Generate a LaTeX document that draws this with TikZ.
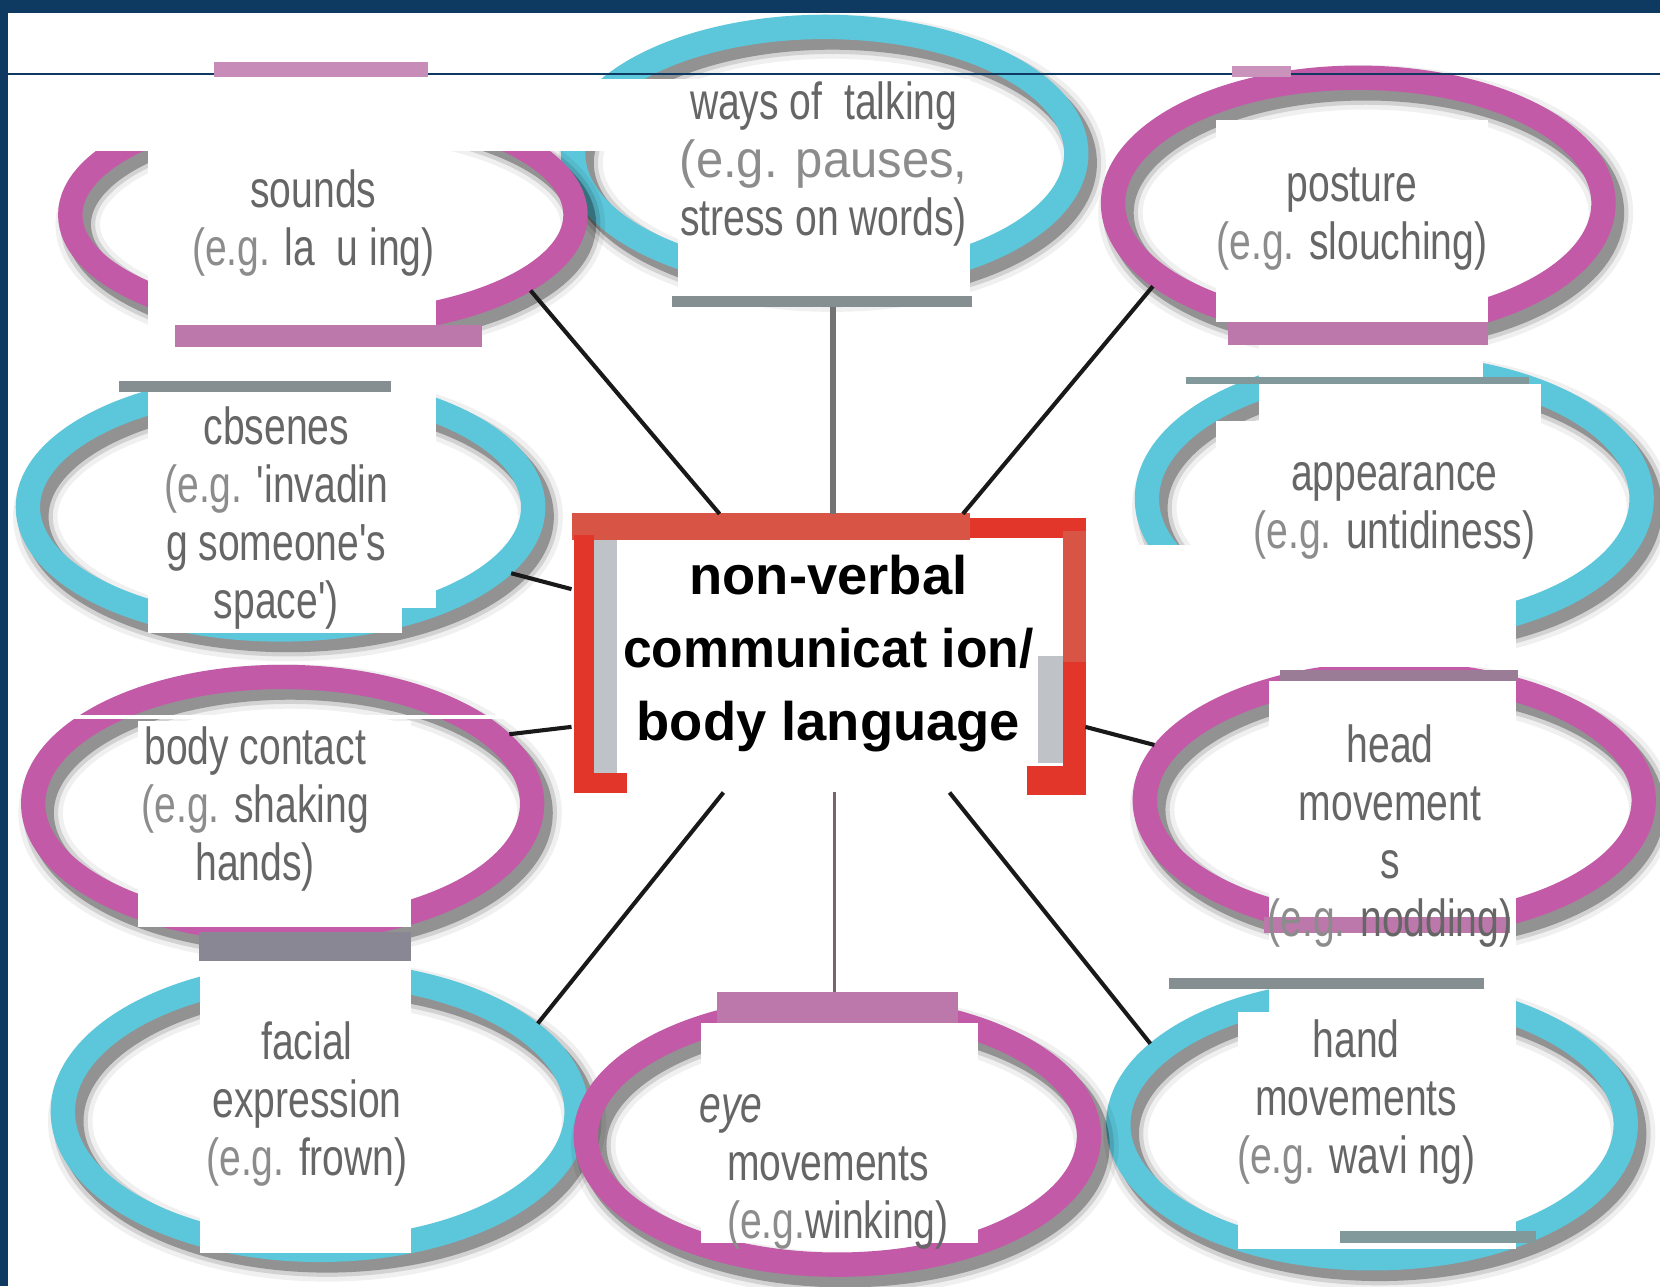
\documentclass[tikz,border=0pt]{standalone}
\usepackage{fontspec}
\usepackage{xcolor}
\usepackage{tikz}
\usetikzlibrary{shapes.geometric}
\usetikzlibrary{positioning}
\setmainfont{Liberation Sans}
\newfontfamily\narrowfont[FakeStretch=0.75]{Liberation Sans}
\newfontfamily\widefont[FakeStretch=0.94]{Liberation Sans}
\newfontfamily\hubfont[FakeStretch=0.95]{Liberation Sans}
\definecolor{framenavy}{HTML}{0E3A62}
\definecolor{ringpink}{HTML}{C25AA7}
\definecolor{ringcyan}{HTML}{5CC6DA}
\definecolor{barpink}{HTML}{BD78AB}
\definecolor{bargrey}{HTML}{858E91}
\definecolor{barteal}{HTML}{82999B}
\definecolor{barmauve}{HTML}{9A7C96}
\definecolor{barslate}{HTML}{8A8794}
\definecolor{textgrey}{HTML}{666666}
\definecolor{eggrey}{HTML}{8C8C8C}
\definecolor{hubred}{HTML}{E2362A}
\definecolor{huborange}{HTML}{D85444}
\definecolor{hubgrey}{HTML}{BFC3C7}
\newcommand{\egpart}{\textcolor{eggrey}{(e.g.}}
\tikzset{
    ring/.style={
        ellipse, inner sep=0pt, line width=0.23cm,
        preaction={draw=black, draw opacity=0.06, line width=0.42cm,
            transform canvas={shift={(7,9)}}},
        preaction={draw=black, draw opacity=0.12, line width=0.33cm,
            transform canvas={shift={(7,9)}}},
        preaction={draw=black, draw opacity=0.30, line width=0.25cm,
            transform canvas={shift={(7,9)}}},
    },
    pinkring/.style={ring, draw=ringpink},
    cyanring/.style={ring, draw=ringcyan},
    ringtext/.style={
        font=\narrowfont\fontsize{14}{15.6}\selectfont,
        text=textgrey, align=center, inner sep=0pt
    },
    hub/.style={
        rectangle, inner sep=0pt, outer sep=0pt,
        minimum width=4.85cm, minimum height=2.63cm,
        align=center, text=black,
        font=\bfseries\fontsize{14.6}{19.6}\selectfont
    },
    spoke/.style={draw=black!90, line width=1.1pt},
}

\begin{document}
\begin{tikzpicture}[x=0.01cm, y=-0.01cm]
        \useasboundingbox (0,0) rectangle (1568,1215);
        \fill[white] (0,0) rectangle (1568,1215);

        % rings
        \node[cyanring, minimum width=4.75cm, minimum height=2.39cm] (ways) at (779,145) {};
        \node[cyanring, minimum width=4.77cm, minimum height=2.31cm] (cbsenes) at (265,479) {};
        \node[cyanring, minimum width=4.67cm, minimum height=2.49cm] (appearance) at (1317,471) {};
        \node[cyanring, minimum width=4.85cm, minimum height=2.61cm] (facial) at (302,1050) {};
        \node[cyanring, minimum width=4.79cm, minimum height=2.53cm] (hand) at (1296,1062) {};
        \node[pinkring, minimum width=4.77cm, minimum height=2.07cm] (sounds) at (305,203) {};
        \node[pinkring, minimum width=4.63cm, minimum height=2.37cm] (posture) at (1283,192) {};
        \node[pinkring, minimum width=4.71cm, minimum height=2.39cm] (body) at (267,759) {};
        \node[pinkring, minimum width=4.71cm, minimum height=2.39cm] (head) at (1317,756) {};
        \node[pinkring, minimum width=4.75cm, minimum height=2.43cm] (eye) at (791,1073) {};

        % frame and rule
        \fill[framenavy] (0,0) rectangle (1568,12);
        \fill[framenavy] (0,0) rectangle (8,1215);
        \draw[framenavy, line width=0.7pt] (8,70) -- (1568,70);

        % white panels
        \fill[white] (8,75) rectangle (640,143);
        \fill[white] (140,143) rectangle (412,574);
        \fill[white] (140,574) rectangle (380,598);
        \fill[white] (640,75) rectangle (916,280);
        \fill[white] (1149,113) rectangle (1406,304);
        \fill[white] (1189,326) rectangle (1401,356);
        \fill[white] (1189,363) rectangle (1456,410);
        \fill[white] (1149,398) rectangle (1456,515);
        \fill[white] (1025,515) rectangle (1432,630);
        \draw[white, line width=1pt] (50,677) -- (580,677);
        \fill[white] (130,681) rectangle (388,876);
        \fill[white] (189,908) rectangle (388,1184);
        \fill[white] (662,966) rectangle (924,1174);
        \fill[white] (1199,643) rectangle (1432,956);
        \fill[white] (1169,956) rectangle (1432,1180);

        % bars
        \fill[barpink!85!white] (202,59) rectangle (404,73);
        \fill[barpink] (165,307) rectangle (455,328);
        \fill[bargrey] (112,360) rectangle (369,370);
        \fill[bargrey] (635,280) rectangle (918,290);
        \fill[barpink!80!white] (1164,62) rectangle (1219,73);
        \fill[barpink] (1160,304) rectangle (1406,326);
        \fill[barteal] (1120,356) rectangle (1444,363);
        \fill[barmauve] (1209,633) rectangle (1434,643);
        \fill[barpink] (1194,866) rectangle (1426,881);
        \fill[bargrey] (1104,924) rectangle (1402,934);
        \fill[barteal] (1266,1163) rectangle (1451,1174);
        \fill[barslate] (188,880) rectangle (388,908);
        \fill[barpink] (677,937) rectangle (905,966);

        % centre box
        \fill[huborange] (540,485) rectangle (916,510);
        \fill[hubred] (916,489) rectangle (1026,508);
        \fill[huborange] (1004,502) rectangle (1026,625);
        \fill[hubred] (1004,625) rectangle (1026,751);
        \fill[hubred] (542,505) rectangle (561,749);
        \fill[hubred] (561,730) rectangle (592,749);
        \fill[hubred] (970,724) rectangle (1004,751);
        \fill[hubgrey] (561,510) rectangle (583,730);
        \fill[hubgrey] (980,620) rectangle (1004,721);
        \fill[white] (583,510) rectangle (1004,620);
        \fill[white] (583,620) rectangle (980,724);
        \fill[white] (592,724) rectangle (970,756);
        \node[hub] (hub) at (782.5,617) {non-verbal\\{\hubfont\bfseries communicat ion/}\\body language};

        % labels
        \node[ringtext] (soundstext) at (296,211) {sounds\\\egpart{} la\ \ u ing)};
        \node[ringtext] (waystext) at (778,155) {ways of\ \ talking\\{\widefont\color{eggrey}(e.g. pauses,}\\stress on words)};
        \node[ringtext] (posturetext) at (1277,207) {posture\\\egpart{} slouching)};
        \node[ringtext] (cbsenestext) at (261,489) {cbsenes\\\egpart{} 'invadin\\g someone's\\space')};
        \node[ringtext] (appeartext) at (1317,483) {appearance\\\egpart{} untidiness)};
        \node[ringtext] (bodytext) at (241,764) {body contact\\\egpart{} shaking\\hands)};
        \node[ringtext] (headtext) at (1313,790) {head\\movement\\s\\\egpart{} nodding)};
        \node[ringtext] (facialtext) at (290,1043) {facial\\expression\\\egpart{} frown)};
        \node[ringtext, align=left, anchor=west] (eyetext) at (660,1107) {\textit{eye}\\\hspace*{0.26cm}movements\\\hspace*{0.26cm}\egpart{}winking)};
        \node[ringtext] (handtext) at (1281,1041) {hand\\movements\\\egpart{} wavi ng)};

        % connectors
        \coordinate (waysfoot) at (787,290);
        \coordinate (eyefoot) at (788,937);
        \draw[spoke] (sounds.340) -- (hub.128);
        \draw[spoke] (posture.202) -- (hub.46);
        \draw[spoke] (cbsenes.344) -- (hub.166);
        \draw[spoke] (body.17) -- (hub.196);
        \draw[spoke] (head.167) -- (hub.344);
        \draw[spoke] (facial.22) -- (hub.233);
        \draw[spoke] (hand.160) -- (hub.311);
        \draw[draw=black!55, line width=1.7pt] (waysfoot) -- (waysfoot |- hub.north);
        \draw[draw=black!65!magenta!60!gray, line width=0.9pt] (eyefoot |- hub.south) -- (eyefoot);
        \end{tikzpicture}
\end{document}
